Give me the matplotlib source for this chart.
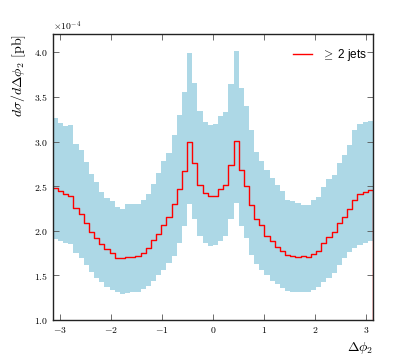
import numpy as np
import matplotlib
matplotlib.use("Agg")
import matplotlib.pyplot as plt
from matplotlib.ticker import MultipleLocator, ScalarFormatter

plt.rcParams['font.family'] = 'serif'
plt.rcParams['font.serif'] = ['cmr10', 'DejaVu Serif']
plt.rcParams['mathtext.fontset'] = 'cm'
plt.rcParams['axes.formatter.use_mathtext'] = True

# 62 bins over [-pi, pi]; values in units of 1e-4 pb
n_bins = 62
central = [2.484, 2.445, 2.412, 2.390, 2.252, 2.183, 2.084, 1.989, 1.916, 1.852,
           1.792, 1.753, 1.695, 1.693, 1.709, 1.708, 1.714, 1.748, 1.804, 1.897,
           1.962, 2.065, 2.150, 2.297, 2.466, 2.672, 3.000, 2.760, 2.510, 2.420,
           2.388, 2.388, 2.465, 2.508, 2.741, 3.008, 2.678, 2.500, 2.294, 2.137,
           2.070, 1.940, 1.884, 1.813, 1.775, 1.727, 1.720, 1.701, 1.715, 1.701,
           1.738, 1.772, 1.865, 1.925, 1.988, 2.089, 2.156, 2.242, 2.342, 2.409,
           2.436, 2.462]
upper = [3.267, 3.211, 3.174, 3.181, 2.975, 2.900, 2.768, 2.640, 2.550, 2.435,
         2.368, 2.338, 2.265, 2.248, 2.299, 2.295, 2.300, 2.348, 2.412, 2.524,
         2.648, 2.787, 2.869, 3.079, 3.303, 3.558, 3.996, 3.659, 3.341, 3.221,
         3.184, 3.199, 3.285, 3.333, 3.640, 4.015, 3.603, 3.397, 3.135, 2.884,
         2.787, 2.685, 2.592, 2.509, 2.442, 2.348, 2.330, 2.311, 2.292, 2.285,
         2.348, 2.375, 2.487, 2.584, 2.629, 2.760, 2.854, 2.966, 3.135, 3.199,
         3.221, 3.236]
lower = [1.910, 1.888, 1.861, 1.850, 1.749, 1.700, 1.618, 1.536, 1.476, 1.423,
         1.375, 1.337, 1.311, 1.292, 1.300, 1.311, 1.318, 1.348, 1.386, 1.438,
         1.506, 1.562, 1.637, 1.719, 1.861, 2.056, 2.303, 2.131, 1.936, 1.861,
         1.835, 1.843, 1.888, 1.936, 2.131, 2.311, 2.056, 1.918, 1.730, 1.625,
         1.562, 1.506, 1.442, 1.401, 1.363, 1.330, 1.318, 1.311, 1.311, 1.318,
         1.337, 1.375, 1.431, 1.476, 1.524, 1.618, 1.700, 1.760, 1.805, 1.843,
         1.861, 1.888]
scale = 1e-4
label = r'$\geq$ 2 jets'

edges = np.linspace(-np.pi, np.pi, n_bins + 1)
c = np.array(central) * scale
hi = np.array(upper) * scale
lo = np.array(lower) * scale

fig = plt.figure(figsize=(4.15, 3.56), dpi=100)
ax = fig.add_axes([0.1272, 0.1011, 0.7714, 0.802])

ax.fill_between(edges, np.append(lo, lo[-1]), np.append(hi, hi[-1]),
                step='post', color='lightblue', lw=0)
ax.plot(edges, np.append(c, 0.0), drawstyle='steps-post', color='red', lw=1.0,
        label=label)

ax.set_xlim(-np.pi, np.pi)
ax.set_ylim(1.0e-4, 4.2e-4)
ax.xaxis.set_major_locator(MultipleLocator(1))
ax.yaxis.set_major_locator(MultipleLocator(0.5e-4))
fmt = ScalarFormatter(useMathText=True)
fmt.set_powerlimits((0, 0))
ax.yaxis.set_major_formatter(fmt)

ax.tick_params(direction='in', top=True, right=True, labelsize=7, length=4,
               width=0.6, color='#555555')
ax.yaxis.get_offset_text().set_fontsize(7)
for s in ax.spines.values():
    s.set_linewidth(1.0)
    s.set_color('#222222')

ax.set_ylabel(r'$d\sigma/d\Delta\phi_2$ [pb]', loc='top', fontsize=10)
ax.set_xlabel(r'$\Delta\phi_2$', loc='right', fontsize=10)

ax.legend(loc='upper right', frameon=False, handlelength=1.6,
          bbox_to_anchor=(1.016, 0.993),
          prop={'family': 'Liberation Sans', 'size': 8.5})

fig.savefig('out.png', dpi=100)
